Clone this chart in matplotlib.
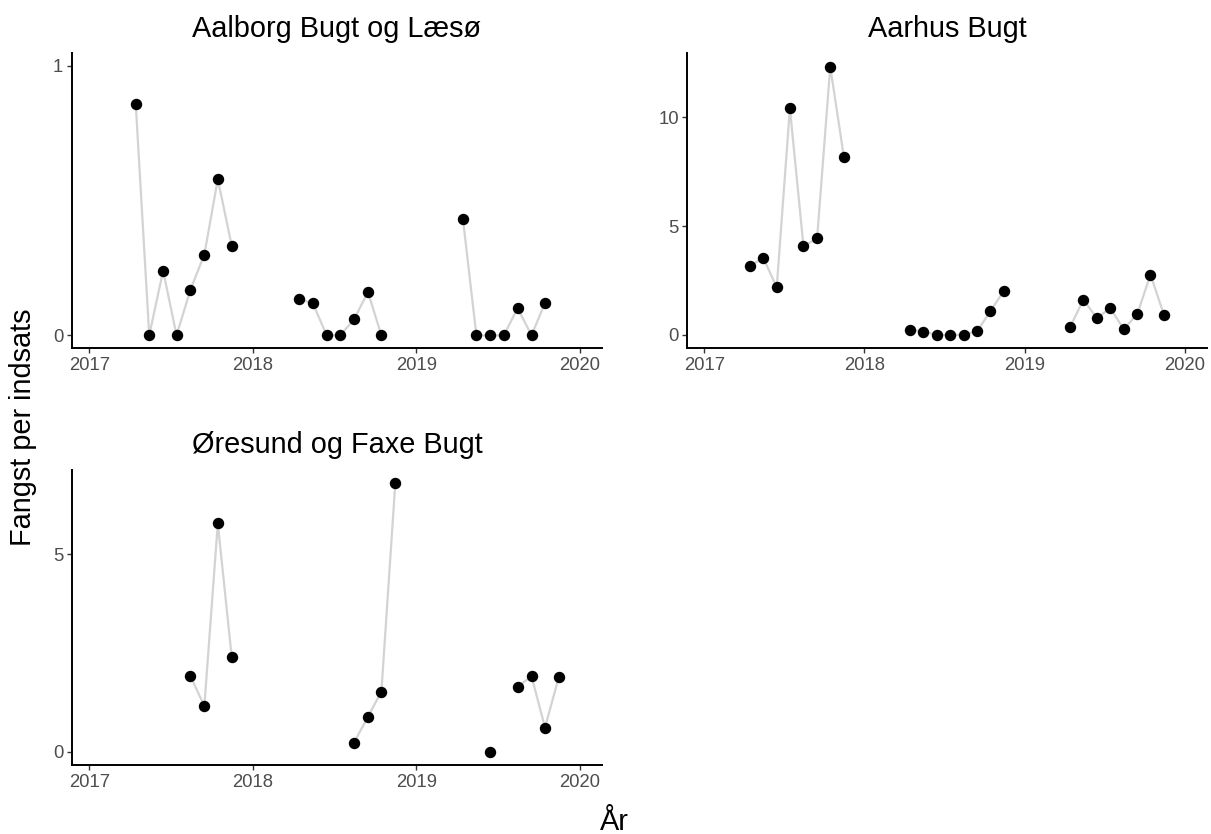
import numpy as np
import matplotlib
matplotlib.use("Agg")
import matplotlib.pyplot as plt
import matplotlib.dates as mdates

plt.rcParams['font.family'] = ['Liberation Sans', 'DejaVu Sans']

# maanedlige fangster per indsats (midt i maaneden)
aalborg_datoer = ["2017-04", "2017-05", "2017-06", "2017-07", "2017-08", "2017-09", "2017-10", "2017-11",
                  "2018-04", "2018-05", "2018-06", "2018-07", "2018-08", "2018-09", "2018-10",
                  "2019-04", "2019-05", "2019-06", "2019-07", "2019-08", "2019-09", "2019-10"]
aalborg_fangst = [0.857, 0.0, 0.24, 0.0, 0.17, 0.30, 0.58, 0.333,
                  0.134, 0.119, 0.0, 0.0, 0.059, 0.161, 0.0,
                  0.431, 0.0, 0.0, 0.0, 0.101, 0.0, 0.120]

aarhus_datoer = ["2017-04", "2017-05", "2017-06", "2017-07", "2017-08", "2017-09", "2017-10", "2017-11",
                 "2018-04", "2018-05", "2018-06", "2018-07", "2018-08", "2018-09", "2018-10", "2018-11",
                 "2019-04", "2019-05", "2019-06", "2019-07", "2019-08", "2019-09", "2019-10", "2019-11"]
aarhus_fangst = [3.15, 3.55, 2.19, 10.41, 4.07, 4.43, 12.32, 8.18,
                 0.245, 0.153, 0.0, 0.0, 0.0, 0.17, 1.09, 2.03,
                 0.37, 1.62, 0.76, 1.24, 0.26, 0.96, 2.77, 0.90]

oresund_datoer = ["2017-08", "2017-09", "2017-10", "2017-11",
                  "2018-08", "2018-09", "2018-10", "2018-11",
                  "2019-06", "2019-08", "2019-09", "2019-10", "2019-11"]
oresund_fangst = [1.91, 1.155, 5.78, 2.40,
                  0.228, 0.885, 1.52, 6.79,
                  0.0, 1.64, 1.91, 0.61, 1.89]

omraader = ["Aalborg Bugt og Læsø", "Aarhus Bugt", "Øresund og Faxe Bugt"]
alle_datoer = [aalborg_datoer, aarhus_datoer, oresund_datoer]
alle_fangster = [aalborg_fangst, aarhus_fangst, oresund_fangst]
y_graenser = [(-0.048, 1.047), None, None]
y_ticks = [[0, 1], [0, 5, 10], [0, 5]]


def til_dato(maaned):
    return np.datetime64(maaned + "-15")


def linje_med_huller(datoer, vaerdier):
    # bryd linjen hvor der mangler en maaned
    xs, ys = [], []
    for i, (d, v) in enumerate(zip(datoer, vaerdier)):
        if i > 0:
            forrige = np.datetime64(datoer[i - 1], "M")
            if np.datetime64(d, "M") - forrige > np.timedelta64(1, "M"):
                xs.append(til_dato(d))
                ys.append(np.nan)
        xs.append(til_dato(d))
        ys.append(v)
    return np.array(xs), np.array(ys)


fig = plt.figure(figsize=(12.11, 8.34), dpi=100)
placeringer = [
    [0.0592, 0.5824, 0.4382, 0.3537],
    [0.5675, 0.5824, 0.4289, 0.3537],
    [0.0592, 0.0827, 0.4382, 0.3537],
]

for i in range(3):
    ax = fig.add_axes(placeringer[i])
    xs, ys = linje_med_huller(alle_datoer[i], alle_fangster[i])
    ax.plot(xs, ys, color="#D3D3D3", lw=1.6, zorder=1)
    ax.plot([til_dato(d) for d in alle_datoer[i]], alle_fangster[i], "o",
            color="black", markersize=7.2, zorder=2)

    ax.set_xlim(np.datetime64("2016-11-23"), np.datetime64("2020-02-20"))
    if y_graenser[i] is not None:
        ax.set_ylim(*y_graenser[i])
    else:
        top = max(alle_fangster[i])
        ax.set_ylim(-0.05 * top, 1.05 * top)
    ax.set_yticks(y_ticks[i])
    ax.xaxis.set_major_locator(mdates.YearLocator())
    ax.xaxis.set_major_formatter(mdates.DateFormatter("%Y"))

    for side in ["top", "right"]:
        ax.spines[side].set_visible(False)
    for side in ["left", "bottom"]:
        ax.spines[side].set_linewidth(1.4)
        ax.spines[side].set_color("black")
    ax.tick_params(axis="both", length=3.6, width=1.0, color="#333333",
                   labelsize=13.3, labelcolor="#4D4D4D")
    ax.tick_params(axis="x", pad=2.5)
    ax.tick_params(axis="y", pad=2.5)
    ax.set_title(omraader[i], fontsize=20.8, pad=12)

fig.text(23 / 1211, 1 - 427 / 834, "Fangst per indsats", rotation=90, fontsize=20.8,
         ha="center", va="center")
fig.text(614 / 1211, 1 - 830 / 834, "År", fontsize=20.8, ha="center", va="baseline")

fig.savefig("out.png", dpi=100)
